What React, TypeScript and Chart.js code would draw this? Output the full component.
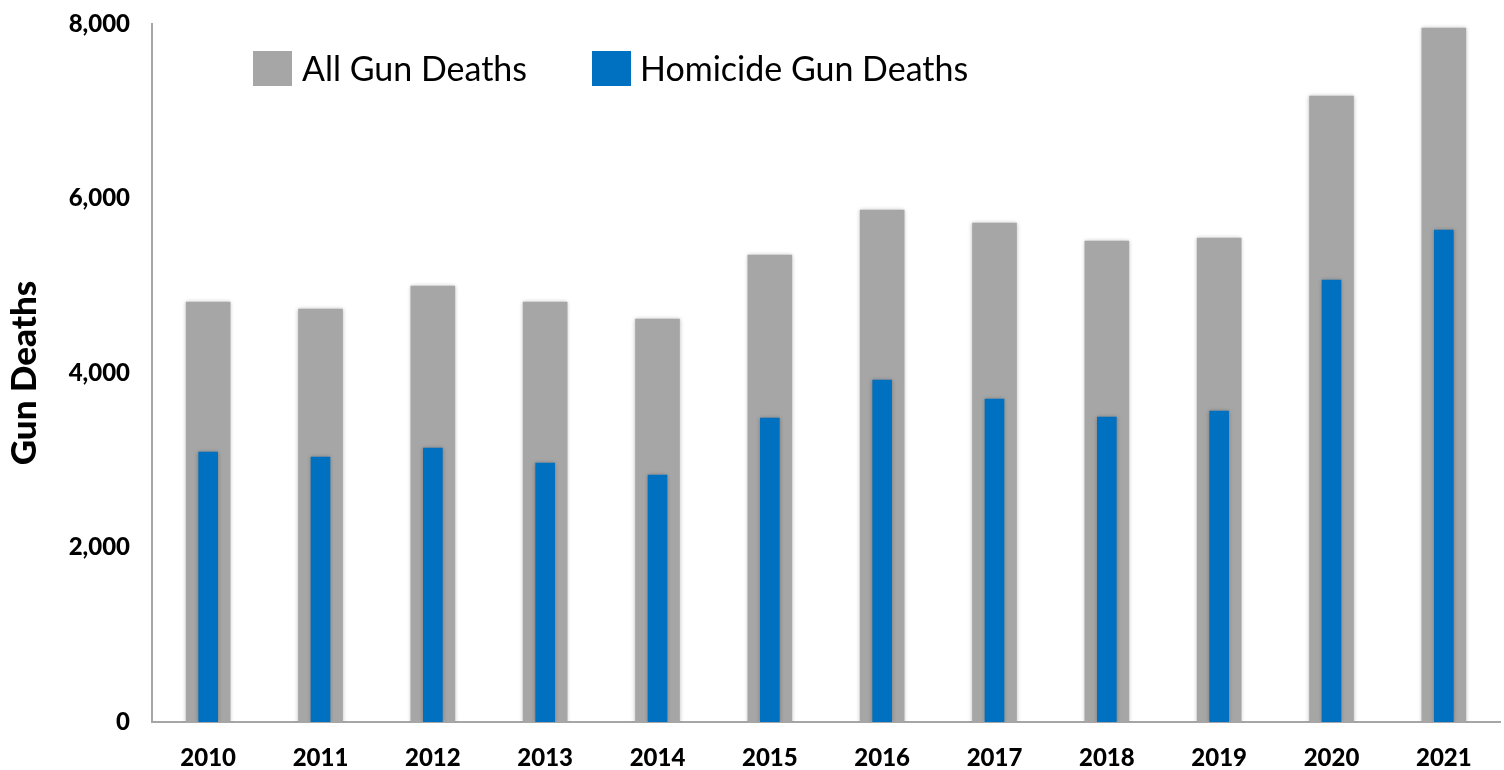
import React, { useEffect, useRef } from "react";
import { Chart, registerables } from "chart.js";

Chart.register(...registerables);

const years = ["2010", "2011", "2012", "2013", "2014", "2015", "2016", "2017", "2018", "2019", "2020", "2021"];
const allGunDeaths = [4814, 4733, 4997, 4814, 4619, 5352, 5868, 5719, 5513, 5547, 7175, 7954];
const homicideGunDeaths = [3095, 3037, 3140, 2968, 2831, 3484, 3920, 3702, 3496, 3564, 5066, 5639];
const yTicks = [0, 2000, 4000, 6000, 8000];

const FONT = "Lato, 'Open Sans', sans-serif";

const shadowPlugin = {
  id: "barShadow",
  beforeDatasetsDraw(chart: any) {
    const ctx = chart.ctx;
    ctx.save();
    ctx.shadowColor = "rgba(0,0,0,0.28)";
    ctx.shadowBlur = 4;
    ctx.shadowOffsetX = 0;
    ctx.shadowOffsetY = 0;
  },
  afterDatasetsDraw(chart: any) {
    chart.ctx.restore();
  },
};

const legendPlugin = {
  id: "customLegend",
  afterDraw(chart: any) {
    const ctx = chart.ctx;
    const items = [
      { x: 253, textX: 302 },
      { x: 592, textX: 640 },
    ];
    ctx.save();
    chart.data.datasets.forEach((ds: any, i: number) => {
      const it = items[i];
      ctx.fillStyle = ds.backgroundColor;
      ctx.fillRect(it.x, 51, 39, 35);
      ctx.fillStyle = "#000";
      ctx.font = `400 34px ${FONT}`;
      ctx.textBaseline = "middle";
      ctx.textAlign = "left";
      ctx.fillText(ds.label, it.textX, 70);
    });
    ctx.restore();
  },
};

export default function App() {
  const ref = useRef<HTMLCanvasElement>(null);
  useEffect(() => {
    const chart = new Chart(ref.current!, {
      type: "bar",
      data: {
        labels: years,
        datasets: [
          {
            label: "All Gun Deaths",
            data: allGunDeaths,
            backgroundColor: "#a6a6a6",
            barThickness: 44,
            grouped: false,
            order: 2,
          } as any,
          {
            label: "Homicide Gun Deaths",
            data: homicideGunDeaths,
            backgroundColor: "#0070c0",
            barThickness: 19,
            grouped: false,
            order: 1,
          } as any,
        ],
      },
      options: {
        animation: false,
        responsive: true,
        maintainAspectRatio: false,
        layout: { padding: { top: 24, right: 4, left: 0, bottom: 0 } },
        plugins: { legend: { display: false }, tooltip: { enabled: false } },
        scales: {
          x: {
            grid: { display: false, drawTicks: false },
            border: { display: true, color: "#a6a6a6", width: 2 },
            ticks: { color: "#000", font: { family: FONT, size: 24, weight: 900 }, padding: 22, maxRotation: 0 },
            afterFit: (s: any) => { s.height = 48; s.paddingLeft = 0; s.paddingRight = 0; },
          },
          y: {
            min: 0,
            max: 8000,
            afterBuildTicks: (s: any) => { s.ticks = yTicks.map((v) => ({ value: v })); },
            grid: { display: false, drawTicks: false },
            border: { display: true, color: "#a6a6a6", width: 2 },
            ticks: {
              color: "#000",
              font: { family: FONT, size: 24, weight: 900 },
              padding: 22,
              callback: (v: any) => Number(v).toLocaleString("en-US"),
            },
            title: {
              display: true,
              text: "Gun Deaths",
              color: "#000",
              font: { family: FONT, size: 35, weight: 900 },
              padding: { top: 4, bottom: 0 },
            },
            afterFit: (s: any) => { s.width = 152; s.paddingTop = 0; s.paddingBottom = 0; },
          },
        },
      },
      plugins: [shadowPlugin, legendPlugin],
    });
    return () => chart.destroy();
  }, []);
  return (
    <div style={{ position: "absolute", left: 0, top: 0, width: 1504, height: 770, background: "#fff" }}>
      <canvas ref={ref} />
    </div>
  );
}
